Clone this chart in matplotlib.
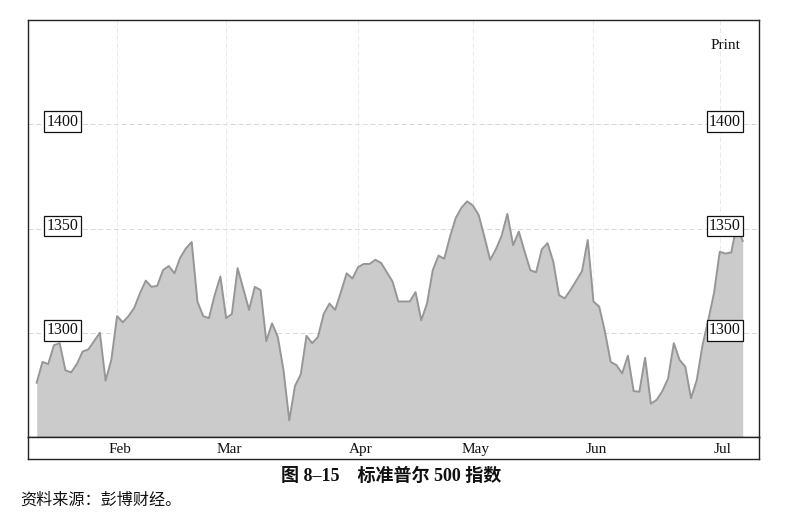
import matplotlib
matplotlib.use("Agg")
import matplotlib.pyplot as plt
import matplotlib.transforms as mtransforms
import numpy as np

# ---- data: S&P 500 daily closes, trading days from mid-January to early July ----
values = [
    1276, 1286, 1285, 1294, 1295, 1282, 1281, 1285, 1291, 1292,
    1296, 1300, 1277, 1287, 1308, 1305, 1308, 1312, 1319, 1325,
    1322, 1322.5, 1330, 1332, 1328.5, 1336, 1340.5, 1343.5, 1315, 1308,
    1307, 1318, 1327, 1307, 1309, 1331, 1321, 1311, 1322, 1320.5,
    1296, 1304.5, 1298, 1282, 1258, 1274.5, 1280, 1298.5, 1295, 1298,
    1309, 1314, 1311, 1319.5, 1328.5, 1326, 1331.5, 1333, 1333, 1335,
    1333.5, 1329, 1324.5, 1315, 1315, 1315, 1319.5, 1306, 1314, 1330,
    1337, 1335.5, 1346, 1355, 1360, 1363, 1361, 1356.5, 1346, 1335,
    1340, 1346.5, 1357, 1342, 1348.5, 1339, 1330, 1329, 1340, 1343,
    1334, 1318, 1316.5, 1320.5, 1325, 1329.5, 1344.5, 1315, 1312.5, 1300.5,
    1286, 1284.5, 1280.5, 1289, 1272, 1271.7, 1288, 1266, 1267.8, 1272,
    1278, 1295, 1287, 1283.7, 1268.6, 1277.3, 1294, 1306, 1319, 1338.8,
    1338, 1338.5, 1352, 1344,
]
month_labels = ["Feb", "Mar", "Apr", "May", "Jun", "Jul"]
month_start_index = [14, 33, 56, 76, 97, 119]
y_levels = [1300, 1350, 1400]
corner_label = "Print"
caption = "图 8–15\u3000标准普尔 500 指数"
source = "资料来源：彭博财经。"

W, H = 798, 523
fig = plt.figure(figsize=(W / 100, H / 100), dpi=100)
fig.patch.set_facecolor("white")

serif = ["Liberation Serif", "DejaVu Serif"]

# main plot area
ax = fig.add_axes([28 / W, 1 - 437 / H, 731 / W, 417 / H])
x = np.arange(len(values))
ax.fill_between(x, values, 1250, color="#cbcbcb", lw=0, zorder=1)
ax.plot(x, values, color="#969696", lw=1.4, zorder=2)
ax.set_xlim(-1.52, 125.84)
ax.set_ylim(1250, 1450)
for yv in y_levels:
    ax.axhline(yv, color="#d6d6d6", lw=0.7, ls=(0, (5, 3)), zorder=0)
for xv in month_start_index:
    ax.axvline(xv, color="#eaeaea", lw=0.7, ls=(0, (5, 3)), zorder=0)
ax.set_xticks([])
ax.set_yticks([])
for s in ax.spines.values():
    s.set_color("#222222")
    s.set_linewidth(1.0)

trans = mtransforms.blended_transform_factory(ax.transAxes, ax.transData)
box = dict(boxstyle="square,pad=0.15", fc="white", ec="#111111", lw=0.9)
for yv in y_levels:
    for xa in (0.0472, 0.9535):
        ax.text(xa, yv + 1.2, str(yv), transform=trans, ha="center", va="center",
                fontsize=11.5, family=serif, color="#111111", bbox=box, zorder=5)
ax.text(0.9535, 1437.8, corner_label, transform=trans, ha="center", va="center",
        fontsize=11, family=serif, color="#111111", zorder=5)

# month label strip
ax2 = fig.add_axes([28 / W, 1 - 459 / H, 731 / W, 22 / H], sharex=ax)
ax2.set_ylim(0, 1)
ax2.set_yticks([])
ax2.tick_params(axis="x", length=0, labelbottom=False)
for s in ax2.spines.values():
    s.set_color("#222222")
    s.set_linewidth(1.0)
for pos, lab in zip(month_start_index, month_labels):
    ax2.text(pos + 0.5, 0.45, lab, transform=ax2.get_xaxis_transform(), ha="center",
             va="center", fontsize=11, family=serif, color="#111111")

fig.text(391.5 / W, 1 - 476 / H, caption, ha="center", va="center", fontsize=13,
         fontweight="bold", family=["Liberation Serif", "Noto Sans CJK SC"], color="#111111")
fig.text(20 / W, 1 - 500 / H, source, ha="left", va="center", fontsize=11.6,
         family=["Noto Sans CJK SC"], color="#111111")

fig.savefig("out.png", dpi=100, facecolor="white")
